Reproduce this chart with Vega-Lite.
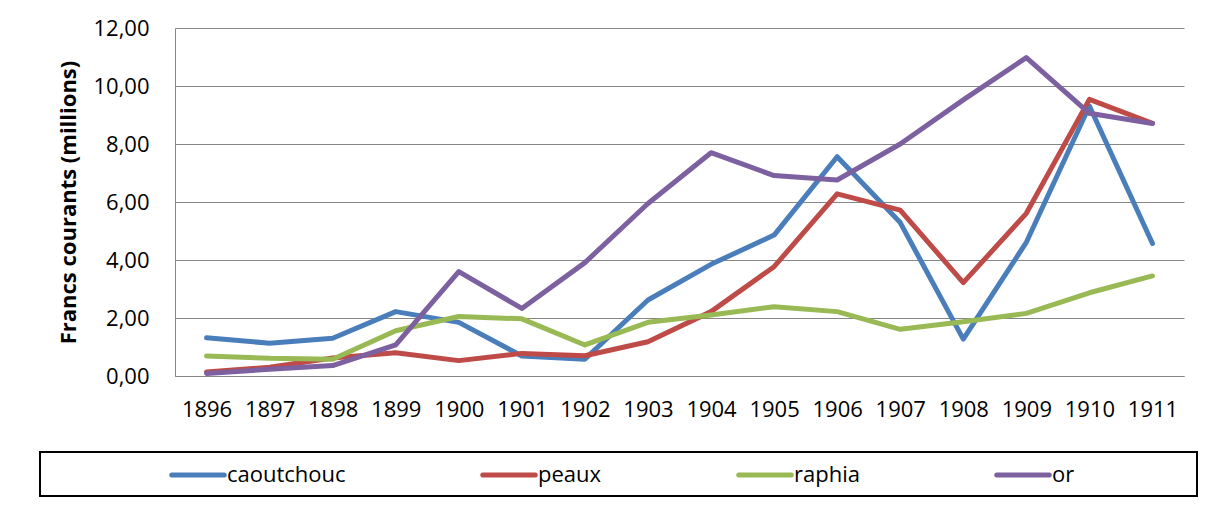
{
  "$schema": "https://vega.github.io/schema/vega-lite/v6.json",
  "width": 1009,
  "height": 348,
  "autosize": {"type": "none"},
  "padding": {"left": 175, "top": 28, "right": 22, "bottom": 136},
  "background": "white",
  "config": {"view": {"stroke": null}, "font": "Open Sans"},
  "data": {
    "values": [
      {"series": "caoutchouc", "year": "1896", "value": 1.32},
      {"series": "caoutchouc", "year": "1897", "value": 1.13},
      {"series": "caoutchouc", "year": "1898", "value": 1.30},
      {"series": "caoutchouc", "year": "1899", "value": 2.22},
      {"series": "caoutchouc", "year": "1900", "value": 1.85},
      {"series": "caoutchouc", "year": "1901", "value": 0.69},
      {"series": "caoutchouc", "year": "1902", "value": 0.58},
      {"series": "caoutchouc", "year": "1903", "value": 2.62},
      {"series": "caoutchouc", "year": "1904", "value": 3.85},
      {"series": "caoutchouc", "year": "1905", "value": 4.86},
      {"series": "caoutchouc", "year": "1906", "value": 7.56},
      {"series": "caoutchouc", "year": "1907", "value": 5.29},
      {"series": "caoutchouc", "year": "1908", "value": 1.27},
      {"series": "caoutchouc", "year": "1909", "value": 4.61},
      {"series": "caoutchouc", "year": "1910", "value": 9.31},
      {"series": "caoutchouc", "year": "1911", "value": 4.57},
      {"series": "peaux", "year": "1896", "value": 0.14},
      {"series": "peaux", "year": "1897", "value": 0.30},
      {"series": "peaux", "year": "1898", "value": 0.62},
      {"series": "peaux", "year": "1899", "value": 0.80},
      {"series": "peaux", "year": "1900", "value": 0.53},
      {"series": "peaux", "year": "1901", "value": 0.78},
      {"series": "peaux", "year": "1902", "value": 0.70},
      {"series": "peaux", "year": "1903", "value": 1.18},
      {"series": "peaux", "year": "1904", "value": 2.22},
      {"series": "peaux", "year": "1905", "value": 3.77},
      {"series": "peaux", "year": "1906", "value": 6.28},
      {"series": "peaux", "year": "1907", "value": 5.72},
      {"series": "peaux", "year": "1908", "value": 3.22},
      {"series": "peaux", "year": "1909", "value": 5.61},
      {"series": "peaux", "year": "1910", "value": 9.54},
      {"series": "peaux", "year": "1911", "value": 8.71},
      {"series": "raphia", "year": "1896", "value": 0.69},
      {"series": "raphia", "year": "1897", "value": 0.61},
      {"series": "raphia", "year": "1898", "value": 0.58},
      {"series": "raphia", "year": "1899", "value": 1.56},
      {"series": "raphia", "year": "1900", "value": 2.05},
      {"series": "raphia", "year": "1901", "value": 1.97},
      {"series": "raphia", "year": "1902", "value": 1.07},
      {"series": "raphia", "year": "1903", "value": 1.85},
      {"series": "raphia", "year": "1904", "value": 2.10},
      {"series": "raphia", "year": "1905", "value": 2.39},
      {"series": "raphia", "year": "1906", "value": 2.22},
      {"series": "raphia", "year": "1907", "value": 1.61},
      {"series": "raphia", "year": "1908", "value": 1.87},
      {"series": "raphia", "year": "1909", "value": 2.16},
      {"series": "raphia", "year": "1910", "value": 2.87},
      {"series": "raphia", "year": "1911", "value": 3.45},
      {"series": "or", "year": "1896", "value": 0.09},
      {"series": "or", "year": "1897", "value": 0.23},
      {"series": "or", "year": "1898", "value": 0.36},
      {"series": "or", "year": "1899", "value": 1.07},
      {"series": "or", "year": "1900", "value": 3.60},
      {"series": "or", "year": "1901", "value": 2.33},
      {"series": "or", "year": "1902", "value": 3.91},
      {"series": "or", "year": "1903", "value": 5.95},
      {"series": "or", "year": "1904", "value": 7.70},
      {"series": "or", "year": "1905", "value": 6.91},
      {"series": "or", "year": "1906", "value": 6.76},
      {"series": "or", "year": "1907", "value": 8.00},
      {"series": "or", "year": "1908", "value": 9.52},
      {"series": "or", "year": "1909", "value": 10.98},
      {"series": "or", "year": "1910", "value": 9.06},
      {"series": "or", "year": "1911", "value": 8.71}
    ]
  },
  "mark": {"type": "line", "strokeWidth": 5, "strokeCap": "round", "strokeJoin": "round"},
  "encoding": {
    "x": {
      "field": "year",
      "type": "ordinal",
      "scale": {"type": "point", "padding": 0.5},
      "axis": {
        "title": null,
        "labelAngle": 0,
        "ticks": false,
        "grid": false,
        "domainColor": "#868686",
        "domainWidth": 1,
        "labelPadding": 23,
        "labelFontSize": 22,
        "labelColor": "#000000",
        "labelFont": "Open Sans"
      }
    },
    "y": {
      "field": "value",
      "type": "quantitative",
      "scale": {"domain": [0, 12], "nice": false},
      "axis": {
        "values": [0, 2, 4, 6, 8, 10, 12],
        "labelExpr": "replace(format(datum.value, '.2f'), '.', ',')",
        "title": "Francs courants (millions)",
        "titleFontWeight": "bold",
        "titleFontSize": 22,
        "titleColor": "#000000",
        "titleFont": "Open Sans",
        "titlePadding": 12,
        "ticks": false,
        "grid": true,
        "gridColor": "#868686",
        "gridWidth": 1,
        "domainColor": "#868686",
        "domainWidth": 1,
        "labelPadding": 26,
        "labelFontSize": 22,
        "labelColor": "#000000",
        "labelFont": "Open Sans"
      }
    },
    "color": {
      "field": "series",
      "type": "nominal",
      "scale": {
        "domain": ["caoutchouc", "peaux", "raphia", "or"],
        "range": ["#4A7EBB", "#BE4B48", "#98B954", "#7D60A0"]
      },
      "legend": {
        "orient": "none",
        "legendX": -135,
        "legendY": 424,
        "direction": "horizontal",
        "title": "\u00a0",
        "titleOrient": "left",
        "titleFontSize": 22,
        "titlePadding": 135,
        "columnPadding": 126,
        "padding": 10,
        "strokeColor": "#000000",
        "labelFontSize": 22,
        "labelFont": "Open Sans",
        "labelColor": "#000000",
        "labelOffset": 16,
        "labelLimit": 400,
        "symbolType": "M-2.5,0H2.5",
        "symbolSize": 441,
        "symbolStrokeWidth": 5,
        "labelExpr": "datum.label == 'or' ? 'or\u2800\u2800\u2800\u2800\u2800\u2800\u2800' : datum.label",
        "encode": {
          "legend": {"update": {"strokeWidth": {"value": 2}}},
          "symbols": {"update": {"strokeCap": {"value": "round"}}}
        }
      }
    }
  }
}
